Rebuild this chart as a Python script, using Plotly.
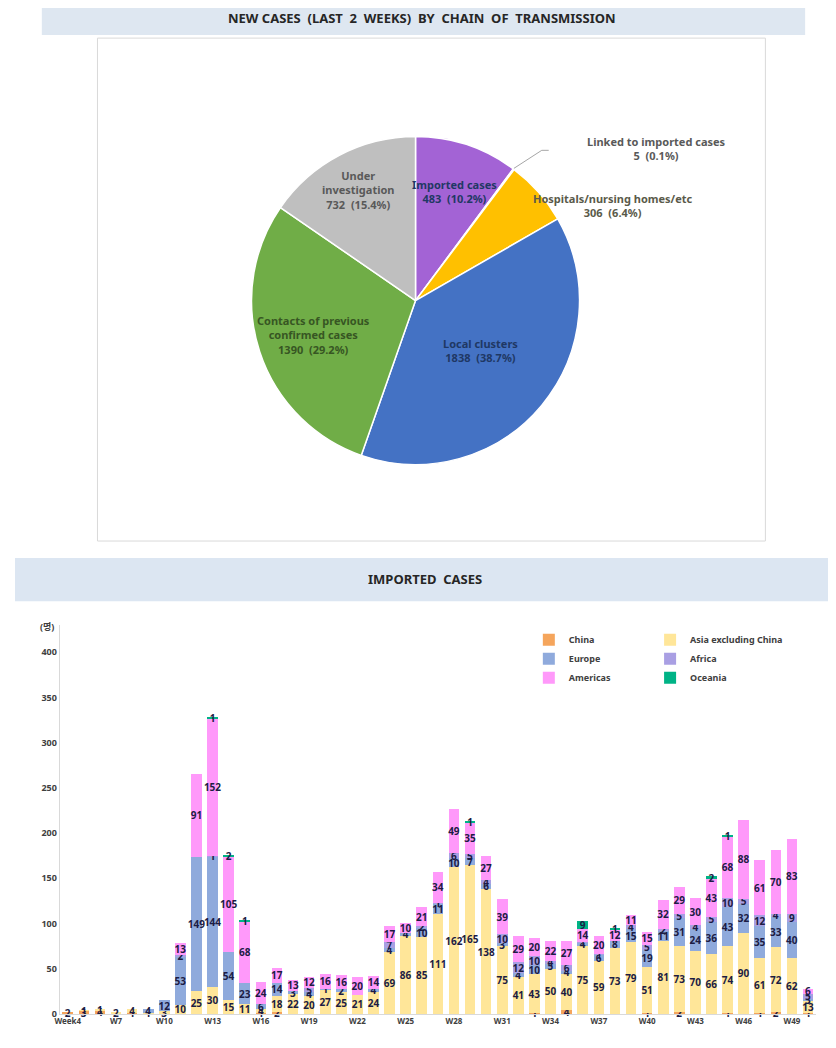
import plotly.graph_objects as go

# page body keeps an 8px margin around the figure
W, H = 820, 1040
OFF = 8
VSCALE = 1056 / 1048

# ---- pie data: new cases (last 2 weeks) by chain of transmission
pie_labels = ["Imported cases", "Linked to imported cases", "Hospitals/nursing homes/etc",
              "Local clusters", "Contacts of previous confirmed cases", "Under investigation"]
pie_values = [483, 5, 306, 1838, 1390, 732]
pie_colors = ["#A363D5", "#5B9BD5", "#FFC000", "#4472C4", "#70AD47", "#BFBFBF"]

# ---- bar data: weekly imported cases by region (Week4 .. W50)
weeks = ["Week4"] + ["W%d" % w for w in range(5, 51)]
china = [2, 3, 4, 0, 1, 0, 0, 0, 0, 0, 0, 0, 1, 2, 0, 0, 0, 0, 0, 0, 0, 0, 0, 0,
         0, 0, 0, 0, 0, 1, 0, 4, 0, 0, 0, 0, 1, 0, 2, 0, 0, 1, 0, 1, 2, 0, 1]
asia = [0, 1, 1, 2, 4, 1, 3, 10, 25, 30, 15, 11, 4, 18, 22, 20, 27, 25, 21, 24, 69, 86, 85, 111,
        162, 165, 138, 75, 41, 43, 50, 40, 75, 59, 73, 79, 51, 81, 73, 70, 66, 74, 90, 61, 72, 62, 13]
europe = [0, 0, 0, 0, 0, 4, 12, 53, 149, 144, 54, 23, 6, 14, 3, 4, 1, 2, 0, 4, 4, 4, 10, 11,
          10, 7, 6, 3, 4, 10, 5, 4, 4, 6, 8, 15, 19, 11, 31, 24, 36, 43, 32, 35, 33, 40, 3]
africa = [0, 0, 0, 0, 0, 0, 0, 2, 0, 1, 0, 0, 0, 0, 0, 5, 0, 0, 0, 0, 7, 0, 2, 1,
          6, 5, 4, 10, 12, 10, 4, 6, 1, 1, 0, 4, 5, 2, 5, 4, 5, 10, 5, 12, 4, 9, 5]
americas = [0, 0, 0, 0, 0, 0, 0, 13, 91, 152, 105, 68, 24, 17, 13, 12, 16, 16, 20, 14, 17, 10, 21, 34,
            49, 35, 27, 39, 29, 20, 22, 27, 14, 20, 12, 11, 15, 32, 29, 30, 43, 68, 88, 61, 70, 83, 6]
oceania = [0, 0, 0, 0, 0, 0, 0, 0, 0, 1, 2, 1, 0, 0, 0, 0, 0, 0, 0, 0, 0, 0, 0, 0,
           0, 1, 0, 0, 0, 0, 0, 0, 9, 0, 1, 0, 0, 0, 0, 0, 2, 1, 0, 0, 0, 0, 0]
tick_weeks = weeks[::3]
y_ticks = [0, 50, 100, 150, 200, 250, 300, 350, 400]

series = [
    ("China", china, "#F5A55C", "legend"),
    ("Asia excluding China", asia, "#FFE699", "legend2"),
    ("Europe", europe, "#8FAADC", "legend"),
    ("Africa", africa, "#A99FE3", "legend2"),
    ("Americas", americas, "#FF99FA", "legend"),
    ("Oceania", oceania, "#00B386", "legend2"),
]

FONT = "Noto Sans, Noto Sans CJK KR, sans-serif"


# helpers: screen pixel -> paper fraction
def px(x):
    return (x - OFF) / W


def py(y):
    return 1 - (y * VSCALE - OFF) / H


fig = go.Figure()

# pie (plotly keeps it circular)
R = 165
cx, cy = 413, 300
fig.add_trace(go.Pie(
    labels=pie_labels, values=pie_values, sort=False, direction="clockwise", rotation=0,
    marker=dict(colors=pie_colors, line=dict(color="white", width=1.5)),
    textinfo="none", showlegend=False,
    domain=dict(x=[px(cx - R), px(cx + R)], y=[py(cy + R), py(cy - R)]),
))

for name, vals, color, lg in series:
    fig.add_trace(go.Bar(
        x=weeks, y=vals, name=name, legend=lg,
        marker=dict(color=color, line=dict(width=0)),
        text=[str(v) if v else "" for v in vals],
        textposition="inside", insidetextanchor="middle", textangle=0,
        textfont=dict(family=FONT, size=10, color="#1C1C44", weight="bold"),
        cliponaxis=False,
    ))

shapes = [
    dict(type="rect", xref="paper", yref="paper", x0=px(37), x1=px(805), y0=py(35), y1=py(0),
         fillcolor="#DEE7F1", line=dict(width=0), layer="below"),
    dict(type="rect", xref="paper", yref="paper", x0=px(93), x1=px(765), y0=py(540), y1=py(38),
         fillcolor="rgba(0,0,0,0)", line=dict(color="#D9D9D9", width=1), layer="below"),
    dict(type="rect", xref="paper", yref="paper", x0=px(10), x1=px(836), y0=py(600), y1=py(557),
         fillcolor="#DCE6F2", line=dict(width=0), layer="below"),
    # leader line for the tiny slice
    dict(type="path", xref="paper", yref="paper",
         path="M %f,%f L %f,%f L %f,%f" % (px(512), py(168), px(540), py(150), px(547), py(150)),
         line=dict(color="#A6A6A6", width=1)),
]

annotations = []


def note(text, x, y, size=11, color="#404040", xanchor="center"):
    annotations.append(dict(text=text, x=px(x), y=py(y), xref="paper", yref="paper",
                            showarrow=False, xanchor=xanchor, yanchor="middle",
                            font=dict(family=FONT, size=size, color=color, weight="bold")))


note("NEW CASES  (LAST  2  WEEKS)  BY  CHAIN  OF  TRANSMISSION", 420, 18, size=13, color="#262626")
note("IMPORTED  CASES", 423, 578, size=13, color="#262626")
note("Under<br>investigation<br>732  (15.4%)", 356, 190, color="#595959")
note("Imported cases<br>483  (10.2%)", 452, 191, color="#1F3864")
note("Hospitals/nursing homes/etc<br>306  (6.4%)", 612, 205, color="#5A5A4A")
note("Linked to imported cases<br>5  (0.1%)", 655, 148, color="#595959")
note("Contacts of previous<br>confirmed cases<br>1390  (29.2%)", 310, 334, color="#375623")
note("Local clusters<br>1838  (38.7%)", 478, 350, color="#1F3864")
note("(명)", 42, 625, size=9, color="#404040")

legend_font = dict(family=FONT, size=9, color="#404040", weight="bold")

fig.update_layout(
    width=W, height=H, margin=dict(l=0, r=0, t=0, b=0),
    paper_bgcolor="white", plot_bgcolor="white",
    barmode="stack", bargap=0.34,
    uniformtext=dict(minsize=10, mode="show"),
    shapes=shapes, annotations=annotations,
    xaxis=dict(domain=[px(55), px(816)], type="category", categoryorder="array", categoryarray=weeks,
               tickvals=tick_weeks, ticktext=tick_weeks, showline=True, linecolor="#D9D9D9",
               ticks="", showgrid=False,
               tickfont=dict(family=FONT, size=8, color="#404040", weight="bold")),
    yaxis=dict(domain=[py(1012), py(624)], range=[0, 430], tickvals=y_ticks,
               showline=True, linecolor="#D9D9D9", ticks="", showgrid=False, zeroline=False,
               tickfont=dict(family=FONT, size=9, color="#404040", weight="bold")),
    legend=dict(x=px(527), y=py(624), xanchor="left", yanchor="top", itemwidth=30,
                traceorder="normal", bgcolor="rgba(0,0,0,0)", font=legend_font),
    legend2=dict(x=px(649), y=py(624), xanchor="left", yanchor="top", itemwidth=30,
                 traceorder="normal", bgcolor="rgba(0,0,0,0)", font=legend_font),
    font=dict(family=FONT),
)

fig.write_html("out.html")
